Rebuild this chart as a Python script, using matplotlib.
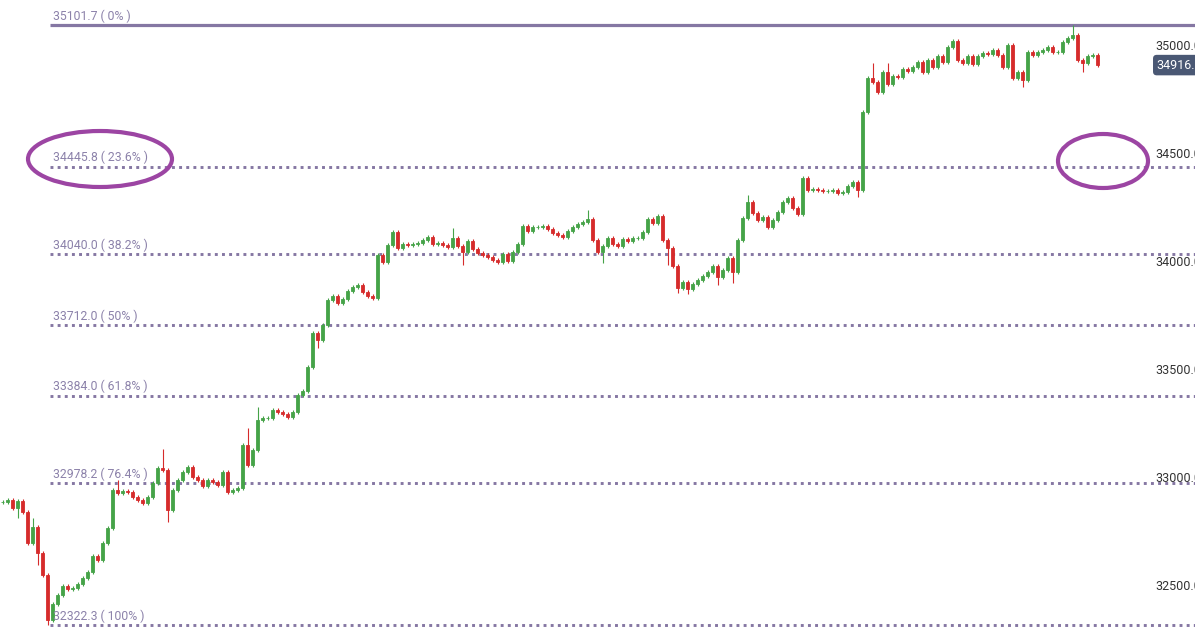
import matplotlib
matplotlib.use("Agg")
import matplotlib.pyplot as plt
from matplotlib.patches import Ellipse

plt.rcParams['font.family'] = ['Roboto', 'DejaVu Sans']

# closing prices, one candle after another (open = previous close)
first_open = 32890
closes = [
    32893, 32902, 32865, 32897, 32846, 32703, 32777, 32657, 32555, 32346,
    32420, 32462, 32504, 32490, 32494, 32513, 32541, 32568, 32643, 32624,
    32703, 32772, 32948, 32934, 32944, 32939, 32916, 32902, 32888, 32916,
    32981, 33050, 33041, 32856, 32948, 32995, 33032, 33055, 33009, 32995,
    32967, 32995, 32985, 32972, 33032, 32939, 32948, 32958, 33157, 33064,
    33134, 33273, 33282, 33282, 33319, 33310, 33300, 33287, 33310, 33388,
    33407, 33518, 33676, 33643, 33713, 33828, 33847, 33815, 33833, 33870,
    33889, 33898, 33865, 33847, 33838, 34037, 34004, 34083, 34143, 34069,
    34088, 34083, 34088, 34092, 34106, 34120, 34088, 34092, 34083, 34074,
    34116, 34078, 34051, 34102, 34065, 34046, 34037, 34028, 34014, 34004,
    34041, 34009, 34051, 34088, 34171, 34148, 34166, 34166, 34171, 34157,
    34139, 34129, 34120, 34148, 34166, 34180, 34190, 34204, 34106, 34051,
    34078, 34116, 34088, 34078, 34111, 34102, 34116, 34116, 34143, 34204,
    34185, 34217, 34106, 34069, 33986, 33884, 33912, 33879, 33902, 33921,
    33940, 33958, 33986, 33935, 33967, 34023, 33958, 34106, 34208, 34282,
    34231, 34199, 34213, 34166, 34199, 34236, 34282, 34301, 34254, 34227,
    34393, 34338, 34343, 34338, 34333, 34333, 34338, 34324, 34329, 34356,
    34375, 34338, 34699, 34857, 34838, 34792, 34884, 34829, 34866, 34861,
    34898, 34889, 34908, 34931, 34884, 34940, 34908, 34959, 34931, 35000,
    35028, 34940, 34926, 34959, 34922, 34959, 34972, 34968, 34986, 34963,
    34908, 35010, 34857, 34884, 34847, 34977, 34963, 34977, 34986, 35000,
    34977, 34977, 35023, 35042, 35056, 34940, 34926, 34959, 34963, 34916,
]
opens = [first_open] + closes[:-1]

spike_highs = {6: 32819, 23: 32995, 32: 33138, 49: 33235, 51: 33333, 90: 34162,
               117: 34245, 149: 34315, 174: 34926, 177: 34926, 214: 35102}
spike_lows = {3: 32819, 7: 32601, 9: 32322, 33: 32800, 63: 33606, 92: 33990,
              120: 33999, 133: 33990, 135: 33861, 137: 33856, 143: 33898,
              146: 33907, 171: 34306, 204: 34815, 216: 34884}

# fibonacci retracement levels
fib_prices = [35101.7, 34445.8, 34040.0, 33712.0, 33384.0, 32978.2, 32322.3]
fib_pcts = ['0%', '23.6%', '38.2%', '50%', '61.8%', '76.4%', '100%']
fib_start = 9.5

axis_ticks = [35000, 34500, 34000, 33500, 33000, 32500]
last_price = closes[-1]

green = '#45a348'
red = '#d62b2b'
fib_color = '#8577a3'

fig = plt.figure(figsize=(11.95, 6.38), dpi=100)
ax = fig.add_axes([0, 0, 1, 1])

pad = 9  # small wick shown on every candle
for i, (o, c) in enumerate(zip(opens, closes)):
    col = green if c >= o else red
    top, bot = max(o, c), min(o, c)
    hi = spike_highs.get(i, top + pad)
    lo = spike_lows.get(i, bot - pad)
    ax.vlines(i, lo, hi, color=col, linewidth=0.8, zorder=3)
    ax.bar(i, top - bot, bottom=bot, width=0.62, color=col,
           edgecolor=col, linewidth=0.6, zorder=4)

x_right = 238.5
for k, (p, pct) in enumerate(zip(fib_prices, fib_pcts)):
    if k == 0:
        ax.hlines(p, fib_start, x_right, color=fib_color, linewidth=2.3, zorder=2)
    else:
        ax.hlines(p, fib_start, x_right, color=fib_color, linewidth=2.1,
                  linestyles=(0, (1, 1.45)), zorder=2)
    ax.text(fib_start + 0.6, p + 11, f'{p:.1f} ( {pct} )', color='#8c82aa',
            fontsize=8.8, va='bottom', ha='left', zorder=5)

# price scale labels on the right (cut off by the edge, as in the source)
ytr = ax.get_yaxis_transform()
for t in axis_ticks:
    ax.text(0.967, t, f'{t:.1f}', transform=ytr, fontsize=9, color='#333333',
            va='center', ha='left', zorder=6)

ax.text(0.968, last_price, f'{last_price:.1f}', transform=ytr, fontsize=9,
        color='white', va='center', ha='left', zorder=7,
        bbox=dict(boxstyle='round,pad=0.3', fc='#4a5874', ec='none'))

# highlight circles
for cx, cy, w, h in [(100, 159, 144, 56), (1103, 161, 90, 54)]:
    fig.patches.append(Ellipse((cx / 1195, 1 - cy / 638), w / 1195, h / 638,
                               transform=fig.transFigure, fill=False,
                               edgecolor='#9c45a3', linewidth=3, zorder=10))

ax.set_xlim(-0.5, x_right)
ax.set_ylim(32262, 35217.5)
ax.axis('off')

fig.savefig('out.png', dpi=100)
